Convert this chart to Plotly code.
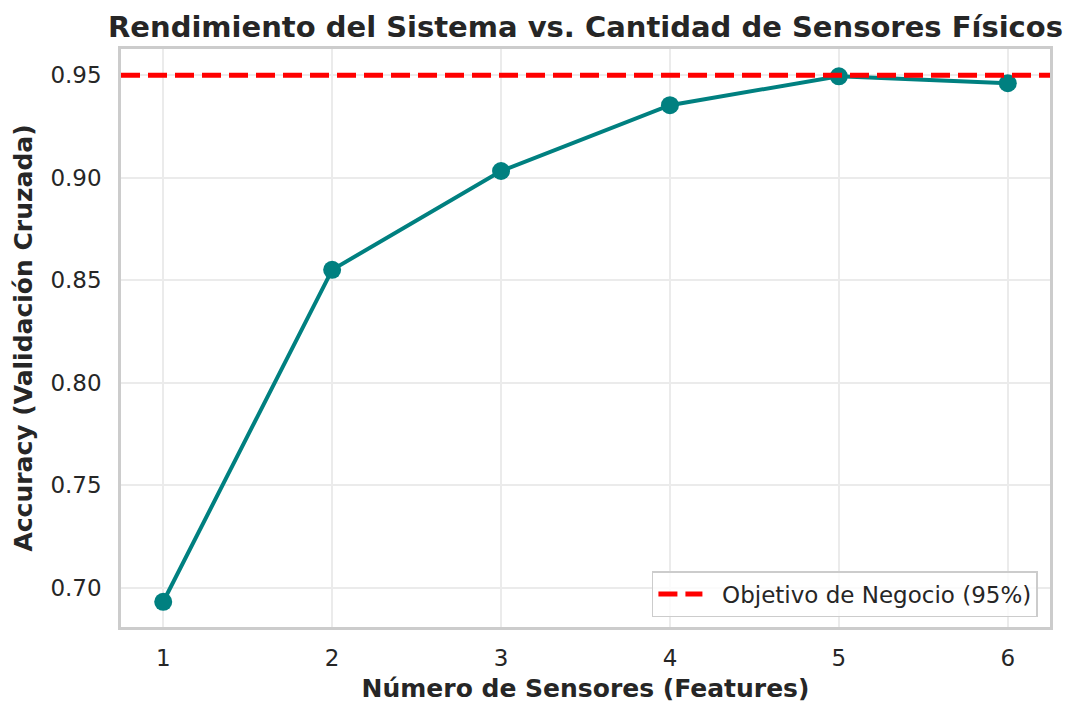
import plotly.graph_objects as go

n_sensores = [1, 2, 3, 4, 5, 6]
accuracy = [0.6932, 0.8551, 0.9033, 0.9354, 0.9495, 0.9461]
objetivo = 0.95
x_ticks = [1, 2, 3, 4, 5, 6]
y_ticks = [0.70, 0.75, 0.80, 0.85, 0.90, 0.95]
y_tick_labels = ["0.70", "0.75", "0.80", "0.85", "0.90", "0.95"]

TXT = "#262626"
FONT = "DejaVu Sans"

fig = go.Figure()
fig.add_trace(go.Scatter(
    x=n_sensores, y=accuracy, mode="lines+markers",
    line=dict(color="#008080", width=4),
    marker=dict(color="#008080", size=18),
    showlegend=False,
))
fig.add_trace(go.Scatter(
    x=[0.75, 6.25], y=[objetivo, objetivo], mode="lines",
    line=dict(color="#ff0000", width=5, dash="19px,8px"),
    name="\u00a0\u00a0Objetivo de Negocio (95%)",
))

fig.update_layout(
    width=1079, height=717,
    margin=dict(l=121, r=29, t=49, b=90),
    paper_bgcolor="white", plot_bgcolor="white",
    font=dict(family=FONT, color=TXT, size=23),
    legend=dict(
        x=0.987, y=0.017, xanchor="right", yanchor="bottom",
        bgcolor="rgba(255,255,255,0.8)", bordercolor="#cccccc", borderwidth=1.5,
        font=dict(size=23, color=TXT), itemwidth=44,
    ),
    annotations=[dict(
        text="Rendimiento del Sistema vs. Cantidad de Sensores Físicos",
        xref="paper", yref="paper", x=0.5, y=1, xanchor="center", yanchor="bottom",
        yshift=3, showarrow=False,
        font=dict(family=FONT, size=29, color=TXT, weight="bold"),
    )],
)
fig.update_xaxes(
    range=[0.75, 6.25], tickvals=x_ticks,
    showgrid=True, gridcolor="#ebebeb", gridwidth=2,
    showline=True, linecolor="#cccccc", linewidth=2.5, mirror=True,
    ticks="outside", ticklen=9, tickcolor="rgba(0,0,0,0)",
    tickfont=dict(size=23, color=TXT), zeroline=False,
    title=dict(text="Número de Sensores (Features)", standoff=10,
               font=dict(size=25, color=TXT, weight="bold")),
)
fig.update_yaxes(
    range=[0.6809, 0.9628], tickvals=y_ticks, ticktext=y_tick_labels,
    showgrid=True, gridcolor="#ebebeb", gridwidth=2,
    showline=True, linecolor="#cccccc", linewidth=2.5, mirror=True,
    ticks="outside", ticklen=12, tickcolor="rgba(0,0,0,0)",
    tickfont=dict(size=23, color=TXT), zeroline=False,
    title=dict(text="Accuracy (Validación Cruzada)", standoff=11,
               font=dict(size=25, color=TXT, weight="bold")),
)

fig.write_html("out.html")
